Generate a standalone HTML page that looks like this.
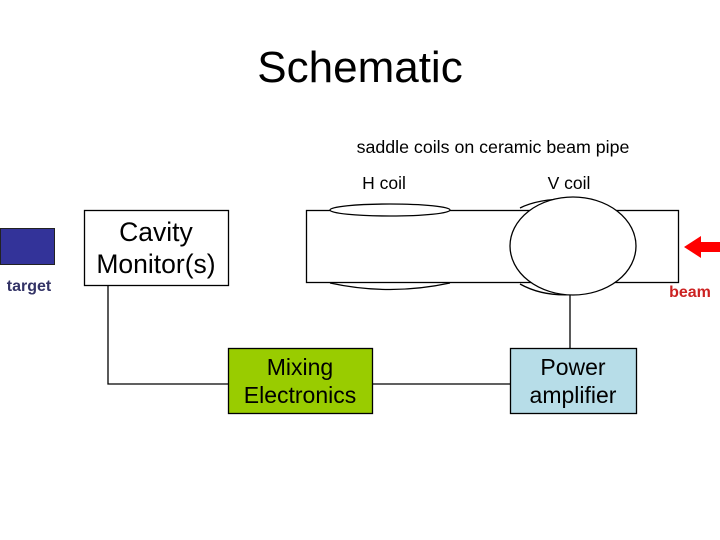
<!DOCTYPE html>
<html><head><style>
body{margin:0;background:#fff;}
svg{display:block;font-family:"Liberation Sans",Arial,sans-serif;}
</style></head><body>
<svg width="720" height="540" viewBox="0 0 720 540">
<text x="360" y="82" font-size="44" text-anchor="middle">Schematic</text>
<text x="493" y="153" font-size="17.8" text-anchor="middle">saddle coils on ceramic beam pipe</text>
<text x="384" y="189" font-size="17.5" text-anchor="middle">H coil</text>
<text x="569" y="189" font-size="17.5" text-anchor="middle">V coil</text>
<rect x="0.5" y="228.5" width="54" height="36" fill="#333399" stroke="#222" stroke-width="1"/>
<text x="29" y="291" font-size="16" font-weight="bold" fill="#333366" text-anchor="middle">target</text>
<g fill="none" stroke="#000" stroke-width="1.3">
<path d="M108,285 V384 H228"/>
<path d="M372,384 H510"/>
<path d="M570,295 V348"/>
<path d="M330,283 Q390,296 450,283"/>
<path d="M520,284 Q545,298 580,294"/>
<path d="M520,208 Q540,198 575,199"/>
</g>
<rect x="306.5" y="210.5" width="372" height="72" fill="none" stroke="#000" stroke-width="1.3"/>
<ellipse cx="390" cy="210" rx="60" ry="6" fill="#fff" stroke="#000" stroke-width="1.3"/>
<ellipse cx="573" cy="246" rx="63" ry="49" fill="#fff" stroke="#000" stroke-width="1.3"/>
<rect x="84.5" y="210.5" width="144" height="75" fill="#fff" stroke="#000" stroke-width="1.3"/>
<text x="156" y="241" font-size="26.5" text-anchor="middle">Cavity</text>
<text x="156" y="273" font-size="26.5" text-anchor="middle">Monitor(s)</text>
<rect x="228.5" y="348.5" width="144" height="65" fill="#99cc00" stroke="#000" stroke-width="1.3"/>
<text x="300" y="375" font-size="23" text-anchor="middle">Mixing</text>
<text x="300" y="403" font-size="23" text-anchor="middle">Electronics</text>
<rect x="510.5" y="348.5" width="126" height="65" fill="#b7dde8" stroke="#000" stroke-width="1.3"/>
<text x="573" y="375" font-size="23" text-anchor="middle">Power</text>
<text x="573" y="403" font-size="23" text-anchor="middle">amplifier</text>
<polygon points="684,247 701,236 701,242 720,242 720,252 701,252 701,258" fill="#ff0000"/>
<text x="690" y="297" font-size="16" font-weight="bold" fill="#cc2222" text-anchor="middle">beam</text>
</svg>
</body></html>
